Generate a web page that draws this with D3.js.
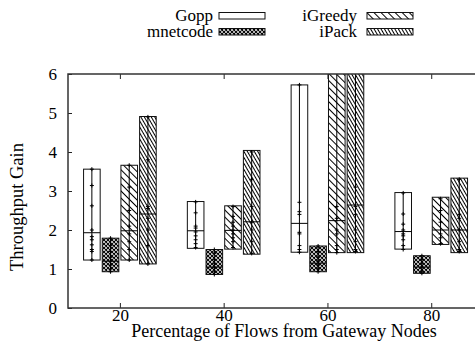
<!DOCTYPE html>
<html>
<head>
<meta charset="utf-8">
<script src="https://cdn.jsdelivr.net/npm/d3@7"></script>
<style>
  body { margin: 0; background: #fff; }
</style>
</head>
<body>
<svg width="475" height="360"></svg>
<script>
// x positions (percentage of flows) and the four schemes
var groups = [20, 40, 60, 80];
var series = ["Gopp", "mnetcode", "iGreedy", "iPack"];
var yTicks = [0, 1, 2, 3, 4, 5, 6];

// box bottom / top / median, one row per scheme, one column per group
var boxLow = [
  [1.23, 1.53, 1.43, 1.51],
  [0.93, 0.86, 0.93, 0.89],
  [1.23, 1.51, 1.42, 1.63],
  [1.13, 1.38, 1.42, 1.42]
];
var boxHigh = [
  [3.56, 2.73, 5.72, 2.96],
  [1.79, 1.50, 1.59, 1.34],
  [3.66, 2.62, 6.50, 2.84],
  [4.91, 4.04, 6.50, 3.33]
];
var boxMed = [
  [1.93, 1.98, 2.17, 1.96],
  [1.20, 1.05, 1.15, 1.05],
  [1.98, 1.99, 2.24, 2.00],
  [2.41, 2.21, 2.64, 2.00]
];
// individual runs (the + marks on the whisker line)
var runs = [
  [[1.23, 1.45, 1.5, 1.62, 1.75, 1.83, 2.0, 2.62, 3.14, 3.56],
   [1.55, 1.65, 1.75, 1.85, 1.95, 2.05, 2.1, 2.44, 2.72],
   [1.43, 1.5, 1.6, 1.9, 1.94, 2.4, 2.47, 2.71, 5.72],
   [1.5, 1.6, 1.75, 1.85, 1.9, 2.0, 2.15, 2.41, 2.95]],
  [[0.93, 1.0, 1.1, 1.2, 1.3, 1.45, 1.6, 1.79],
   [0.86, 0.95, 1.05, 1.15, 1.25, 1.4, 1.5],
   [0.93, 1.0, 1.1, 1.2, 1.3, 1.45, 1.59],
   [0.89, 0.95, 1.05, 1.15, 1.25, 1.34]],
  [[1.23, 1.5, 1.7, 1.9, 2.1, 2.5, 3.1, 3.66],
   [1.55, 1.7, 1.8, 1.9, 2.0, 2.1, 2.2, 2.35, 2.6],
   [1.42, 1.5, 1.6, 1.9, 2.0, 2.3, 2.6],
   [1.65, 1.8, 1.9, 2.2, 2.5, 2.8]],
  [[1.13, 1.6, 2.0, 2.3, 2.55, 2.6, 3.8, 4.9],
   [1.4, 1.7, 2.0, 2.2, 2.6, 3.3, 4.0],
   [1.45, 1.5, 1.7, 2.0, 2.4, 2.6, 3.1],
   [1.45, 1.5, 1.7, 2.0, 2.3, 2.4, 3.3]]
];
var offsets = [-5.4, -1.8, 1.8, 5.4];   // box centre offset from group, in x units
var boxW = 3.2;                          // box width, in x units

var FONT = "'Liberation Serif', 'Times New Roman', serif";
var svg = d3.select("svg").attr("font-family", FONT).attr("font-size", 17);
var plotL = 68, plotT = 74, plotR = 535, plotB = 308;

var x = d3.scaleLinear().domain([10, 100]).range([plotL, plotR]);
var y = d3.scaleLinear().domain([0, 6]).range([plotB, plotT]);

// fill patterns
var defs = svg.append("defs");
var dense = defs.append("pattern").attr("id", "pat-mnet")
  .attr("patternUnits", "userSpaceOnUse").attr("width", 4).attr("height", 4);
dense.append("rect").attr("width", 4).attr("height", 4).attr("fill", "#fff");
dense.append("path").attr("d", "M0,0L4,4M4,0L0,4M-1,1L1,-1M3,5L5,3M-1,3L1,5M3,-1L5,1")
  .attr("stroke", "#000").attr("stroke-width", 1.1);

var sparse = defs.append("pattern").attr("id", "pat-greedy")
  .attr("patternUnits", "userSpaceOnUse").attr("width", 5).attr("height", 10)
  .attr("patternTransform", "rotate(-45)");
sparse.append("rect").attr("width", 5).attr("height", 10).attr("fill", "#fff");
sparse.append("line").attr("x1", 0.5).attr("x2", 0.5).attr("y1", 0).attr("y2", 10)
  .attr("stroke", "#000").attr("stroke-width", 1);

var steep = defs.append("pattern").attr("id", "pat-ipack")
  .attr("patternUnits", "userSpaceOnUse").attr("width", 3).attr("height", 10)
  .attr("patternTransform", "rotate(-30)");
steep.append("rect").attr("width", 3).attr("height", 10).attr("fill", "#fff");
steep.append("line").attr("x1", 0.5).attr("x2", 0.5).attr("y1", 0).attr("y2", 10)
  .attr("stroke", "#000").attr("stroke-width", 1);

var fills = ["#fff", "url(#pat-mnet)", "url(#pat-greedy)", "url(#pat-ipack)"];

defs.append("clipPath").attr("id", "plotclip").append("rect")
  .attr("x", plotL).attr("y", plotT).attr("width", plotR - plotL).attr("height", plotB - plotT);

// boxes
var plot = svg.append("g").attr("clip-path", "url(#plotclip)");
series.forEach(function (name, s) {
  groups.forEach(function (g, i) {
    var cx = x(g + offsets[s]);
    var x0 = x(g + offsets[s] - boxW / 2), x1 = x(g + offsets[s] + boxW / 2);
    plot.append("rect")
      .attr("x", x0).attr("y", y(boxHigh[s][i]))
      .attr("width", x1 - x0).attr("height", y(boxLow[s][i]) - y(boxHigh[s][i]))
      .attr("fill", fills[s]).attr("stroke", "#111").attr("stroke-width", 1);
    plot.append("line")
      .attr("x1", x0).attr("x2", x1)
      .attr("y1", y(boxMed[s][i])).attr("y2", y(boxMed[s][i]))
      .attr("stroke", "#000").attr("stroke-width", 1);
    var pts = runs[s][i];
    plot.append("line")
      .attr("x1", cx).attr("x2", cx)
      .attr("y1", y(d3.min(pts))).attr("y2", y(Math.max(d3.max(pts), boxHigh[s][i])))
      .attr("stroke", "#000").attr("stroke-width", 1);
    plot.selectAll(null).data(pts).enter().append("path")
      .attr("d", function (d) {
        var py = y(d);
        return "M" + (cx - 2) + "," + py + "H" + (cx + 2) + "M" + cx + "," + (py - 2) + "V" + (py + 2);
      })
      .attr("stroke", "#000").attr("stroke-width", 1);
  });
});

// axes (inward ticks, mirrored on top)
var xAxis = svg.append("g").attr("transform", "translate(0," + plotB + ")")
  .call(d3.axisBottom(x).tickValues(groups).tickFormat(d3.format("d")).tickSize(-5).tickPadding(1));
var yAxis = svg.append("g").attr("transform", "translate(" + plotL + ",0)")
  .call(d3.axisLeft(y).tickValues(yTicks).tickFormat(d3.format("d")).tickSize(-4).tickPadding(11));
svg.append("g").attr("transform", "translate(0," + plotT + ")")
  .call(d3.axisTop(x).tickValues(groups).tickSize(-5).tickFormat(""));
svg.selectAll("g").filter(function () { return this.getAttribute("font-family"); })
  .attr("font-family", FONT).attr("font-size", 17);
svg.selectAll(".tick text").attr("fill", "#000");
svg.selectAll(".domain").remove();
svg.selectAll(".tick line").attr("stroke", "#222");

svg.append("rect")
  .attr("x", plotL).attr("y", plotT).attr("width", plotR - plotL).attr("height", plotB - plotT)
  .attr("fill", "none").attr("stroke", "#333").attr("stroke-width", 1.5);

// titles
svg.append("text").attr("x", 284).attr("y", 337).attr("text-anchor", "middle")
  .attr("font-size", 18).text("Percentage of Flows from Gateway Nodes");
svg.append("text").attr("transform", "translate(22.5,207) rotate(-90)")
  .attr("text-anchor", "middle").attr("font-size", 18.5).text("Throughput Gain");

// legend
var legX = [213, 213, 357, 357], legY = [20.5, 36.5, 20.5, 36.5];
series.forEach(function (name, s) {
  svg.append("text").attr("x", legX[s]).attr("y", legY[s]).attr("text-anchor", "end").text(name);
  svg.append("rect")
    .attr("x", legX[s] + (s < 2 ? 6 : 10)).attr("y", legY[s] - 8)
    .attr("width", 46).attr("height", 6.5)
    .attr("fill", fills[s]).attr("stroke", "#111").attr("stroke-width", 1);
});
</script>
</body>
</html>
